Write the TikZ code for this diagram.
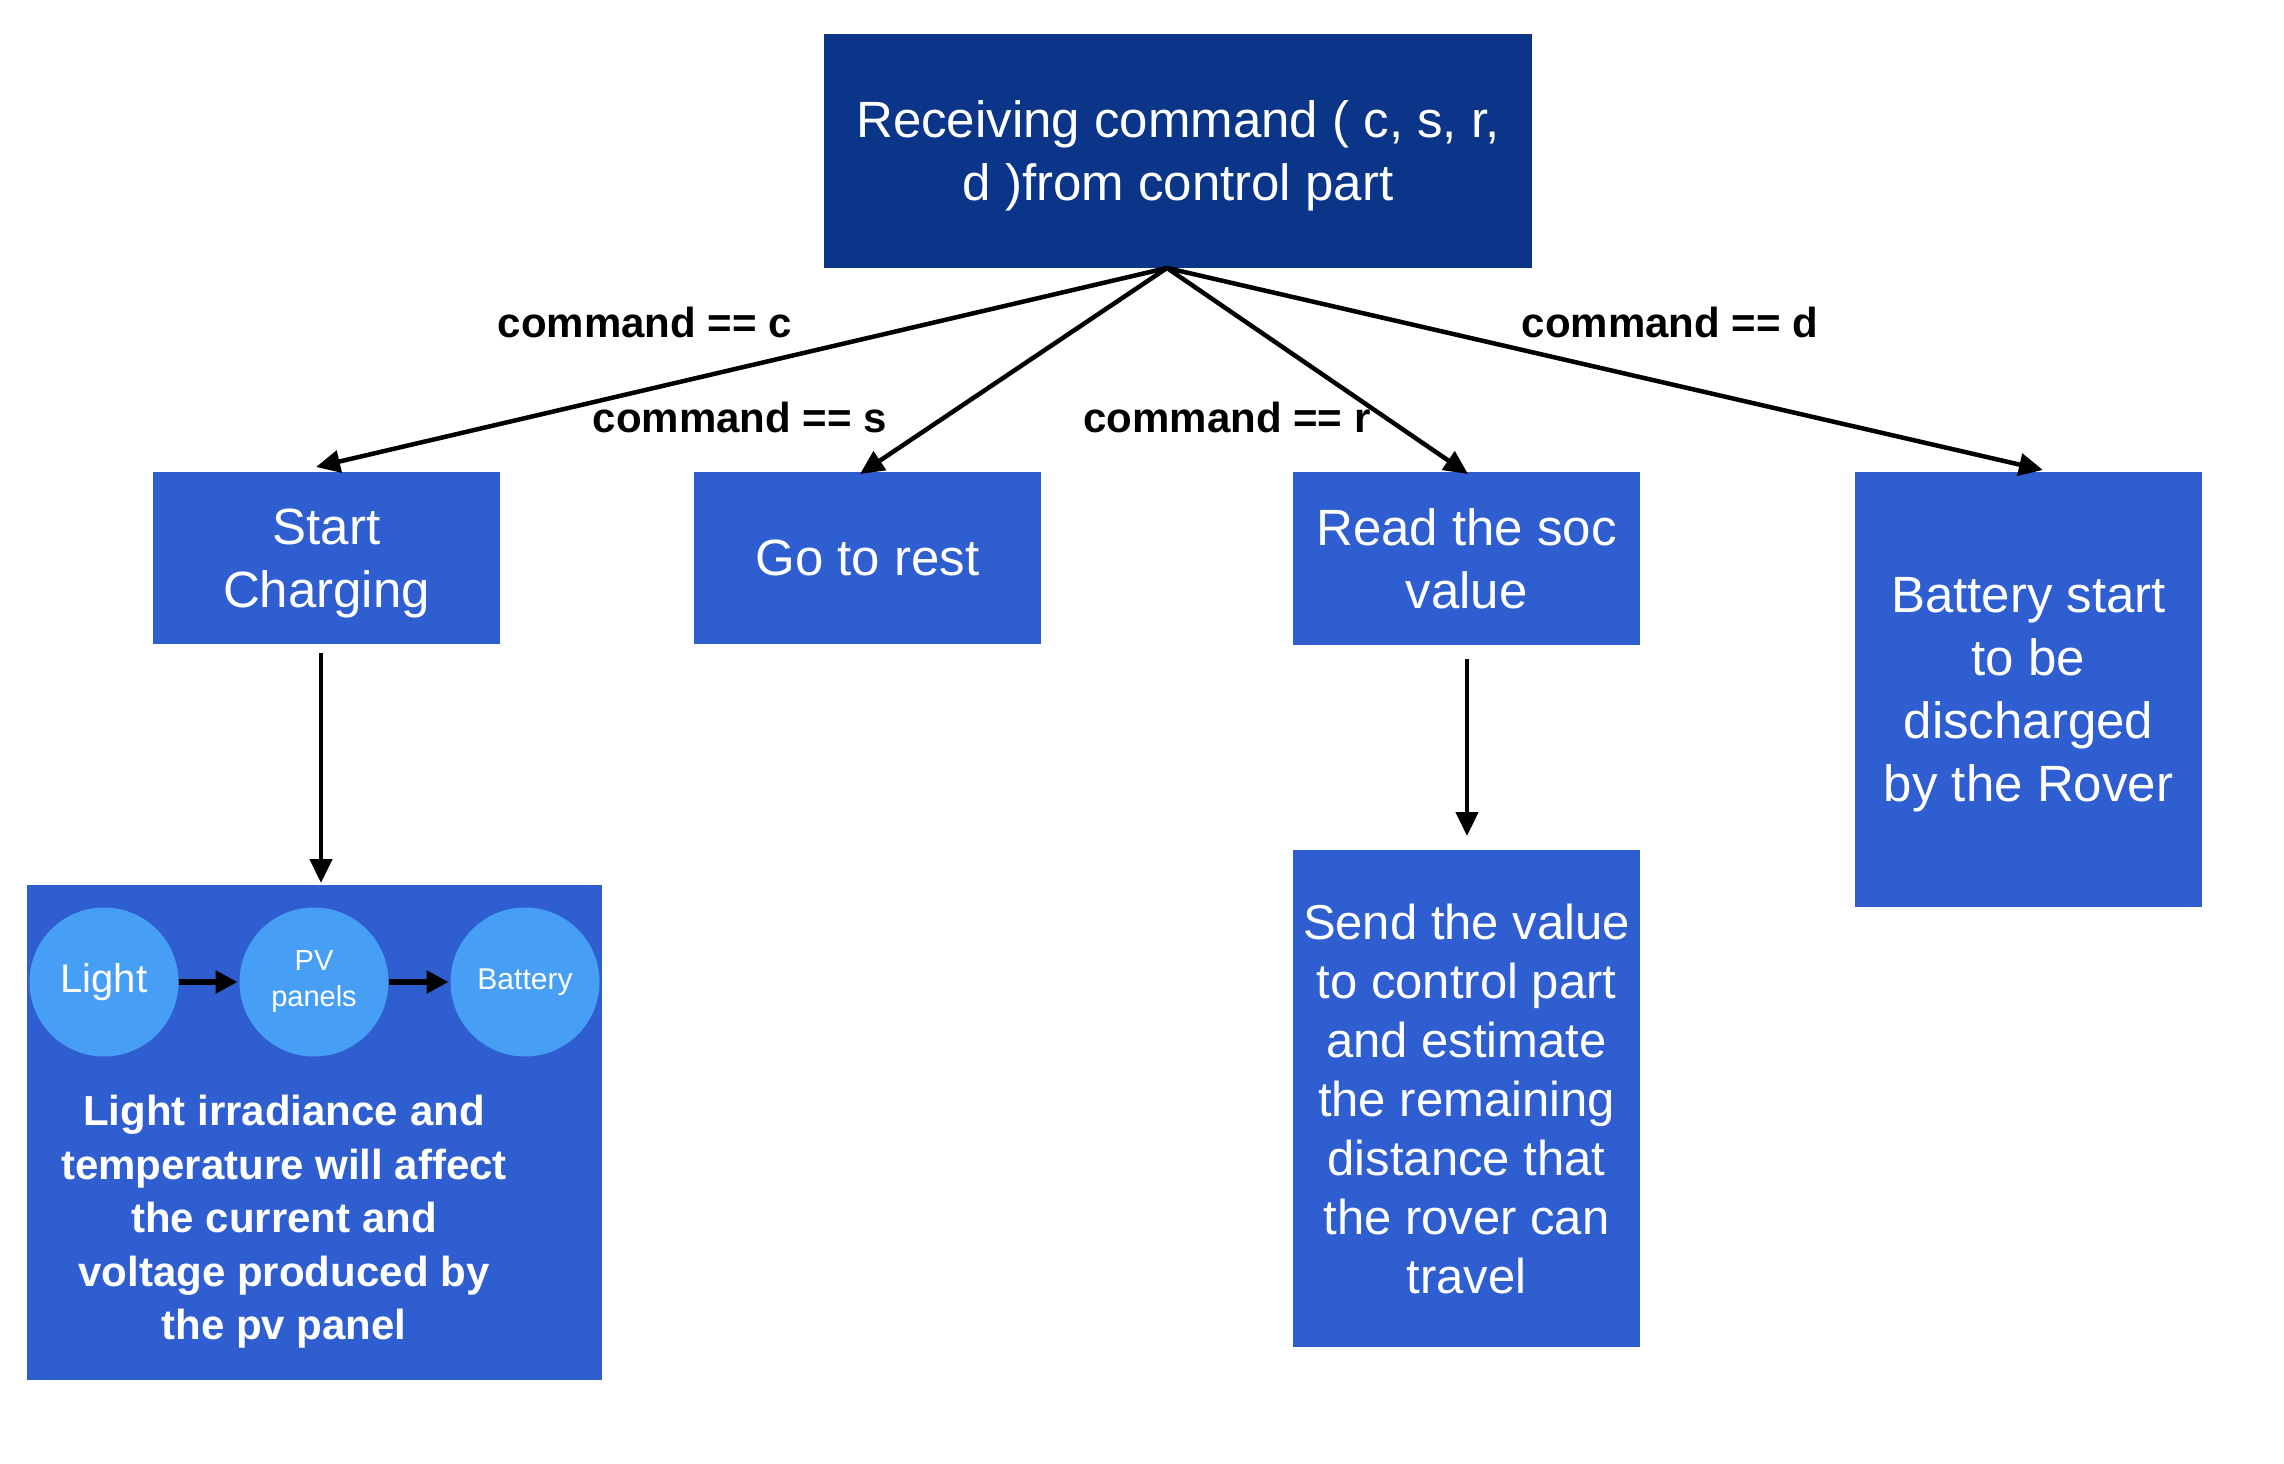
\documentclass[tikz,border=0pt]{standalone}
\usepackage{fontspec}
\setmainfont{Liberation Sans}
\usetikzlibrary{arrows.meta}
\definecolor{topblue}{RGB}{11,53,136}
\definecolor{boxblue}{RGB}{47,94,209}
\definecolor{circblue}{RGB}{71,159,245}
\begin{document}
\begin{tikzpicture}[x=1pt,y=-1pt,
  box/.style={fill=boxblue, draw=none, inner sep=0pt, outer sep=0pt, text=white, align=center, text depth=0pt, font=\fontsize{51}{63}\selectfont},
  lbl/.style={font=\bfseries\fontsize{42}{50}\selectfont, inner sep=0pt, text=black},
  conn/.style={draw=black, line width=4.5pt, -{Triangle[length=24pt,width=22pt]}},
  carrow/.style={draw=black, line width=6pt, -{Triangle[length=22pt,width=22pt]}, shorten >=2pt},
  circ/.style={circle, fill=circblue, minimum size=149pt, inner sep=0pt, outer sep=0pt, text=white, align=center},
]
\useasboundingbox (0,0) rectangle (2284,1464);
\fill[white] (0,0) rectangle (2284,1464);

% main boxes
\node[box, fill=topblue, minimum width=708pt, minimum height=234pt] (top) at (1178,151) {Receiving command ( c, s, r,\\d )from control part};
\node[box, minimum width=347pt, minimum height=172pt] (charge) at (326.5,558) {Start\\Charging};
\node[box, minimum width=347pt, minimum height=172pt] (rest) at (867.5,558) {Go to rest};
\node[box, minimum width=347pt, minimum height=173pt] (read) at (1466.5,558.5) {Read the soc\\value};
\node[box, minimum width=347pt, minimum height=435pt] (batt) at (2028.5,689.5) {Battery start\\to be\\discharged\\by the Rover};
\node[box, minimum width=575pt, minimum height=495pt] (panel) at (314.5,1132.5) {};
\node[box, font=\fontsize{49}{59}\selectfont, minimum width=347pt, minimum height=497pt] (send) at (1466.5,1098.5) {Send the value\\to control part\\and estimate\\the remaining\\distance that\\the rover can\\travel};

% circles inside the panel box
\node[circ, font=\fontsize{40}{48}\selectfont] (light) at (104,982) {Light};
\node[circ, font=\fontsize{29}{36}\selectfont] (pv) at (314,982) {PV\\panels};
\node[circ, font=\fontsize{30}{36}\selectfont] (battc) at (525,982) {Battery};
\draw[carrow] (light) -- (pv);
\draw[carrow] (pv) -- (battc);

\node[text=white, align=center, inner sep=0pt, font=\bfseries\fontsize{42}{53.5}\selectfont] (desc) at (284,1222) {Light irradiance and\\temperature will affect\\the current and\\voltage produced by\\the pv panel};

% labels
\node[lbl] (lc) at (645,322) {command == c};
\node[lbl] (ls) at (740,417) {command == s};
\node[lbl] (lr) at (1227,417) {command == r};
\node[lbl] (ld) at (1670,322) {command == d};

% connectors
\coordinate (apex) at ([xshift=-11pt]top.south);
\draw[conn] (apex) -- ([xshift=-10.5pt,yshift=5pt]charge.north);
\draw[conn] (apex) -- ([xshift=-7.5pt,yshift=-2pt]rest.north);
\draw[conn] (apex) -- ([xshift=1.5pt,yshift=-2pt]read.north);
\draw[conn] (apex) -- ([xshift=14.5pt,yshift=2pt]batt.north);
\draw[conn] ([xshift=-5.5pt,yshift=-9pt]charge.south) -- ([xshift=6.5pt,yshift=2pt]panel.north);
\draw[conn] ([xshift=0.5pt,yshift=-14pt]read.south) -- ([xshift=0.5pt,yshift=14pt]send.north);
\end{tikzpicture}
\end{document}
